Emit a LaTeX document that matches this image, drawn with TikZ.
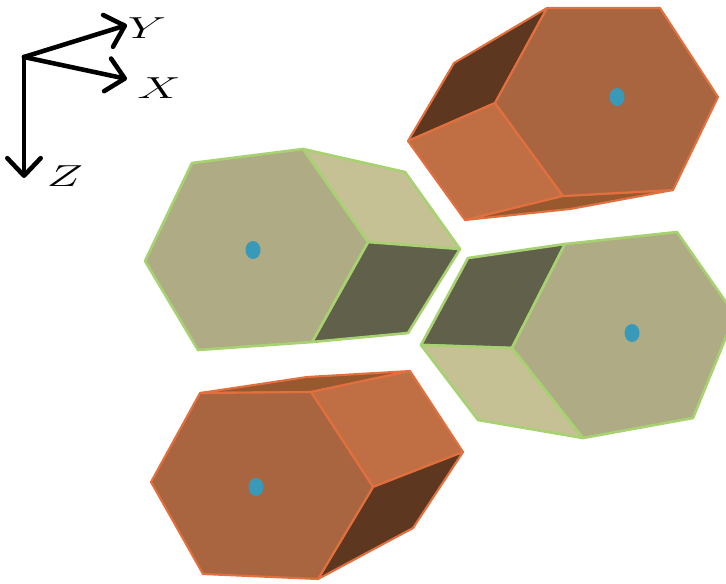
\documentclass[tikz,border=0pt]{standalone}
\usepackage{amsmath}
\usepackage{amssymb}
\usetikzlibrary{calc,arrows.meta}
\definecolor{rustfront}{HTML}{A96540}
\definecolor{rustlight}{HTML}{C06F45}
\definecolor{rustdark}{HTML}{5E3720}
\definecolor{rustmid}{HTML}{99592F}
\definecolor{rustedge}{HTML}{E2703E}
\definecolor{olivefront}{HTML}{AFAB84}
\definecolor{olivelight}{HTML}{C5C194}
\definecolor{olivedark}{HTML}{60604B}
\definecolor{oliveedge}{HTML}{A8D272}
\definecolor{axisdot}{HTML}{389AB8}
\tikzset{
  rust/.style={draw=rustedge,line width=1.2pt,line join=round},
  olive/.style={draw=oliveedge,line width=1.5pt,line join=round},
  axisline/.style={line width=2.6pt,line cap=round,-{Straight Barb[length=10pt,width=19pt,line width=2.6pt,round]}},
  axislabel/.style={font=\LARGE,xscale=1.6,inner sep=0pt},
  centredot/.style={fill=axisdot,draw=none}
}
\begin{document}
\begin{tikzpicture}[x=0.02cm,y=-0.02cm]
\useasboundingbox (0,0) rectangle (726,583);
\coordinate (o) at (24,57);
\coordinate (ytip) at (127,25);
\coordinate (xtip) at (127,79);
\coordinate (ztip) at (24,178);
\draw[axisline] (o) -- (ytip);
\draw[axisline] (o) -- (xtip);
\draw[axisline] (o) -- (ztip);
\node[axislabel] (ylabel) at (147,28) {$Y$};
\node[axislabel] (xlabel) at (159,88) {$X$};
\node[axislabel] (zlabel) at (65,176) {$Z$};
\fill[rust,fill=rustdark] (547,8) -- (495,103) -- (408,141) -- (454,63) -- cycle;
\fill[rust,fill=rustlight] (495,103) -- (563,196) -- (465,220) -- (408,141) -- cycle;
\fill[rust,fill=rustmid] (563,196) -- (673,190) -- (570,209) -- (465,220) -- cycle;
\fill[rust,fill=rustfront] (547,8) -- (660,8) -- (718,97) -- (673,190) -- (563,196) -- (495,103) -- cycle;
\fill[centredot] (617,97) ellipse (7.5 and 9);
\fill[olive,fill=olivedark] (565,244) -- (512,348) -- (421,345) -- (468,258) -- cycle;
\fill[olive,fill=olivelight] (512,348) -- (583,438) -- (478,420) -- (421,345) -- cycle;
\fill[olive,fill=olivefront] (565,244) -- (677,232) -- (735,315) -- (693,418) -- (583,438) -- (512,348) -- cycle;
\fill[centredot] (632,333) ellipse (7.5 and 9);
\fill[olive,fill=olivelight] (303,149) -- (405,172) -- (460,249) -- (368,242) -- cycle;
\fill[olive,fill=olivedark] (368,242) -- (460,249) -- (408,333) -- (312,342) -- cycle;
\fill[olive,fill=olivefront] (192,163) -- (303,149) -- (368,242) -- (312,342) -- (198,350) -- (145,261) -- cycle;
\fill[centredot] (253,250) ellipse (7.5 and 9);
\fill[rust,fill=rustmid] (200,393) -- (307,377) -- (410,371) -- (311,392) -- cycle;
\fill[rust,fill=rustlight] (311,392) -- (410,371) -- (463,452) -- (373,487) -- cycle;
\fill[rust,fill=rustdark] (373,487) -- (463,452) -- (413,528) -- (318,579) -- cycle;
\fill[rust,fill=rustfront] (200,393) -- (311,392) -- (373,487) -- (318,579) -- (203,574) -- (151,482) -- cycle;
\fill[centredot] (256,487) ellipse (7.5 and 9);
\end{tikzpicture}
\end{document}
